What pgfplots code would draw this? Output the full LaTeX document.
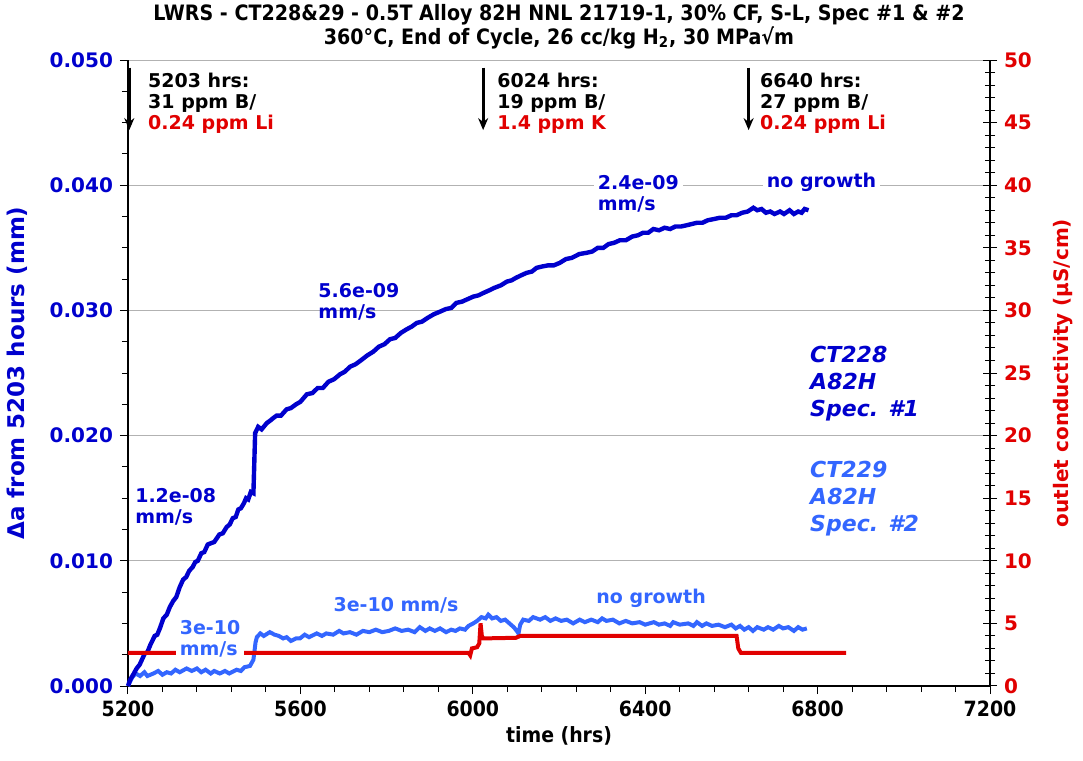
\documentclass[border=0pt]{standalone}
\usepackage{fontspec}
\setmainfont{DejaVu Sans}
\newfontfamily\cond{DejaVu Sans Condensed}
\usepackage{pgfplots}
\pgfplotsset{compat=1.18}
\usetikzlibrary{arrows.meta}
\definecolor{dblue}{RGB}{0,0,205}
\definecolor{lblue}{RGB}{51,102,255}
\definecolor{cred}{RGB}{225,0,0}
\begin{document}
\begin{tikzpicture}
\useasboundingbox (-64pt,-37.5pt) rectangle (477.5pt,343pt);
\begin{axis}[name=main, scale only axis, width=431pt, height=313pt,
  at={(0,0)}, anchor=south west,
  xmin=5200, xmax=7200, ymin=0, ymax=0.05,
  xtick={5200,5600,6000,6400,6800,7200}, minor x tick num=4,
  ytick={0,0.01,0.02,0.03,0.04,0.05}, minor y tick num=3,
  scaled y ticks=false,
  axis x line*=bottom, axis y line*=left,
  axis line style={-, line width=0.8pt},
  tick align=outside, major tick length=4pt, minor tick length=3pt,
  tick style={black, line width=0.5pt},
  ymajorgrids, grid style={gray!60, line width=0.5pt},
  /pgf/number format/assume math mode=true,
  x tick label style={font=\cond\bfseries\fontsize{10.5}{12}\selectfont, /pgf/number format/1000 sep={}},
  y tick label style={font=\bfseries\fontsize{10}{12}\selectfont, text=dblue, /pgf/number format/fixed, /pgf/number format/fixed zerofill, /pgf/number format/precision=3},
  xlabel={time (hrs)}, xlabel style={font=\cond\bfseries\fontsize{10.5}{12}\selectfont, yshift=2pt},
  ylabel={Δa from 5203 hours (mm)}, ylabel style={font=\bfseries\fontsize{11.5}{13}\selectfont, text=dblue, yshift=4pt},
  title={LWRS - CT228\&29 - 0.5T Alloy 82H NNL 21719-1, 30\% CF, S-L, Spec \#1 \& \#2\\360°C, End of Cycle, 26 cc/kg H\textsubscript{2}, 30 MPa√m},
  title style={align=center, font=\cond\bfseries\fontsize{10.6}{12}\selectfont, yshift=-4pt},
  clip=false,
]
\addplot[lblue, line width=2pt] coordinates {
(5200,0.0000)(5210,0.0007)(5218,0.0010)(5228,0.0008)(5238,0.0011)(5245,0.0008)(5259,0.0010)(5270,0.0012)(5280,0.0009)(5290,0.0011)(5300,0.0010)(5310,0.0013)(5320,0.0011)(5336,0.0014)(5348,0.0012)(5360,0.0014)(5370,0.0011)(5380,0.0013)(5392,0.0010)(5400,0.0012)(5413,0.0010)(5425,0.0012)(5435,0.0010)(5452,0.0013)(5462,0.0012)(5470,0.0015)(5483,0.0016)(5491,0.0021)(5496,0.0035)(5499,0.0039)(5507,0.0042)(5515,0.0040)(5529,0.0043)(5540,0.0041)(5550,0.0040)(5560,0.0038)(5568,0.0039)(5578,0.0036)(5590,0.0038)(5599,0.0038)(5610,0.0041)(5620,0.0039)(5638,0.0042)(5650,0.0040)(5660,0.0042)(5676,0.0041)(5690,0.0044)(5700,0.0042)(5715,0.0043)(5730,0.0041)(5745,0.0044)(5760,0.0043)(5775,0.0045)(5790,0.0043)(5805,0.0044)(5820,0.0046)(5835,0.0044)(5850,0.0045)(5865,0.0043)(5877,0.0047)(5890,0.0044)(5900,0.0046)(5912,0.0044)(5924,0.0046)(5938,0.0043)(5950,0.0045)(5960,0.0044)(5970,0.0046)(5982,0.0045)(5990,0.0048)(6001,0.0050)(6010,0.0052)(6020,0.0055)(6030,0.0054)(6036,0.0057)(6045,0.0054)(6055,0.0055)(6065,0.0052)(6075,0.0053)(6085,0.0050)(6095,0.0047)(6102,0.0044)(6106,0.0042)(6110,0.0049)(6117,0.0053)(6130,0.0052)(6140,0.0055)(6156,0.0053)(6168,0.0055)(6180,0.0052)(6192,0.0054)(6205,0.0052)(6218,0.0053)(6233,0.0050)(6248,0.0053)(6260,0.0051)(6275,0.0053)(6290,0.0051)(6300,0.0054)(6310,0.0052)(6325,0.0053)(6340,0.0050)(6355,0.0052)(6370,0.0050)(6387,0.0051)(6400,0.0049)(6420,0.0051)(6432,0.0049)(6445,0.0050)(6458,0.0048)(6465,0.0051)(6480,0.0049)(6500,0.0050)(6512,0.0048)(6520,0.0051)(6532,0.0048)(6542,0.0050)(6555,0.0048)(6570,0.0049)(6585,0.0047)(6600,0.0049)(6610,0.0046)(6620,0.0048)(6630,0.0045)(6640,0.0047)(6650,0.0044)(6660,0.0047)(6675,0.0045)(6685,0.0047)(6697,0.0045)(6710,0.0048)(6720,0.0046)(6732,0.0047)(6745,0.0044)(6755,0.0047)(6765,0.0045)(6775,0.0046)
};
\addplot[dblue, line width=2.2pt] coordinates {
(5200,0.0000)(5205,0.0005)(5212,0.0009)(5220,0.0014)(5227,0.0017)(5239,0.0026)(5245,0.0027)(5252,0.0033)(5262,0.0040)(5268,0.0041)(5275,0.0047)(5282,0.0054)(5290,0.0057)(5297,0.0063)(5305,0.0068)(5312,0.0071)(5320,0.0079)(5328,0.0085)(5335,0.0087)(5342,0.0092)(5350,0.0095)(5356,0.0099)(5362,0.0100)(5370,0.0106)(5377,0.0107)(5385,0.0113)(5392,0.0114)(5400,0.0115)(5406,0.0118)(5412,0.0121)(5420,0.0122)(5429,0.0127)(5436,0.0129)(5443,0.0134)(5450,0.0135)(5456,0.0141)(5462,0.0142)(5469,0.0146)(5474,0.0150)(5479,0.0149)(5485,0.0155)(5491,0.0154)(5493,0.0178)(5495,0.0202)(5502,0.0207)(5510,0.0205)(5522,0.0210)(5530,0.0212)(5537,0.0214)(5545,0.0216)(5555,0.0216)(5568,0.0221)(5578,0.0222)(5590,0.0225)(5600,0.0227)(5615,0.0233)(5628,0.0234)(5640,0.0238)(5652,0.0238)(5665,0.0243)(5678,0.0245)(5692,0.0249)(5703,0.0251)(5715,0.0255)(5728,0.0257)(5740,0.0260)(5755,0.0264)(5769,0.0267)(5782,0.0271)(5795,0.0273)(5808,0.0277)(5820,0.0278)(5833,0.0282)(5847,0.0285)(5858,0.0287)(5870,0.0290)(5882,0.0291)(5895,0.0294)(5910,0.0297)(5924,0.0299)(5937,0.0301)(5950,0.0302)(5962,0.0306)(5975,0.0307)(5988,0.0309)(6001,0.0311)(6013,0.0312)(6025,0.0314)(6038,0.0316)(6050,0.0318)(6065,0.0320)(6079,0.0323)(6090,0.0324)(6100,0.0326)(6112,0.0328)(6125,0.0330)(6137,0.0331)(6148,0.0334)(6160,0.0335)(6175,0.0336)(6188,0.0336)(6202,0.0338)(6216,0.0341)(6230,0.0342)(6247,0.0345)(6264,0.0346)(6277,0.0347)(6290,0.0350)(6303,0.0350)(6315,0.0353)(6328,0.0354)(6341,0.0356)(6355,0.0356)(6370,0.0359)(6383,0.0360)(6395,0.0362)(6407,0.0362)(6419,0.0365)(6432,0.0364)(6445,0.0366)(6458,0.0365)(6470,0.0367)(6483,0.0367)(6496,0.0368)(6508,0.0369)(6520,0.0370)(6533,0.0370)(6545,0.0372)(6560,0.0373)(6573,0.0374)(6587,0.0374)(6600,0.0376)(6612,0.0376)(6625,0.0378)(6638,0.0379)(6651,0.0382)(6660,0.0380)(6670,0.0381)(6680,0.0378)(6690,0.0379)(6700,0.0377)(6713,0.0379)(6722,0.0377)(6735,0.0380)(6745,0.0377)(6755,0.0379)(6763,0.0378)(6770,0.0381)(6779,0.0380)
};
% annotations
\draw[-{Stealth[length=6pt,width=5pt]}, line width=1.5pt] (axis cs:5203,0.0494) -- (axis cs:5203,0.0444);
\draw[-{Stealth[length=6pt,width=5pt]}, line width=1.5pt] (axis cs:6024,0.0494) -- (axis cs:6024,0.0444);
\draw[-{Stealth[length=6pt,width=5pt]}, line width=1.5pt] (axis cs:6640,0.0494) -- (axis cs:6640,0.0444);
\tikzset{ann/.style={anchor=north west, align=left, inner sep=0pt, font=\bfseries\fontsize{9.5}{10.5}\selectfont}}
\node[ann] at (axis cs:5246,0.0490) {5203 hrs:\\31 ppm B/\\\textcolor{cred}{0.24 ppm Li}};
\node[ann] at (axis cs:6056,0.0490) {6024 hrs:\\19 ppm B/\\\textcolor{cred}{1.4 ppm K}};
\node[ann] at (axis cs:6666,0.0490) {6640 hrs:\\27 ppm B/\\\textcolor{cred}{0.24 ppm Li}};
\node[ann, text=dblue] at (axis cs:5216,0.0158) {1.2e-08\\mm/s};
\node[ann, text=dblue] at (axis cs:5641,0.0322) {5.6e-09\\mm/s};
\node[ann, text=dblue, fill=white, inner sep=2pt] at (axis cs:6280,0.0411) {2.4e-09\\mm/s};
\node[ann, text=dblue, fill=white, inner sep=2pt] at (axis cs:6672,0.0413) {no growth};
\node[ann, text=lblue] at (axis cs:5676,0.0071) {3e-10 mm/s};
\node[ann, text=lblue] at (axis cs:6286,0.0078) {no growth};
\tikzset{spec/.style={anchor=north west, align=left, inner sep=0pt, font=\bfseries\itshape\fontsize{11}{13.5}\selectfont}}
\node[spec, text=dblue] at (axis cs:6782,0.0272) {CT228\\A82H\\Spec. \#1};
\node[spec, text=lblue] at (axis cs:6782,0.0180) {CT229\\A82H\\Spec. \#2};
\end{axis}
\begin{axis}[scale only axis, width=431pt, height=313pt,
  at={(0,0)}, anchor=south west,
  xmin=5200, xmax=7200, ymin=0, ymax=50,
  axis x line=none, axis y line*=right,
  axis line style={-, line width=0.8pt},
  ytick={0,5,...,50}, minor y tick num=4,
  tick align=center, major tick length=7pt, minor tick length=5pt,
  tick style={black, line width=0.5pt},
  /pgf/number format/assume math mode=true,
  y tick label style={font=\bfseries\fontsize{10}{12}\selectfont, text=cred},
  ylabel={outlet conductivity (μS/cm)}, ylabel style={font=\bfseries\fontsize{10}{12}\selectfont, text=cred, yshift=-4pt},
  clip=false,
]
\addplot[cred, line width=2pt] coordinates {
(5200,2.65)(5990,2.65)(5994,2.45)(5998,3.0)(6010,3.1)(6015,3.4)(6018,5.0)(6021,4.0)(6024,3.8)(6100,3.85)(6110,4.0)(6612,4.0)(6616,3.0)(6622,2.65)(6866,2.65)
};
\node[anchor=north west, align=left, inner sep=2pt, fill=white, text=lblue, font=\bfseries\fontsize{9.5}{10.5}\selectfont] at (axis cs:5310,5.6) {3e-10\\mm/s};
\end{axis}
\end{tikzpicture}
\end{document}
